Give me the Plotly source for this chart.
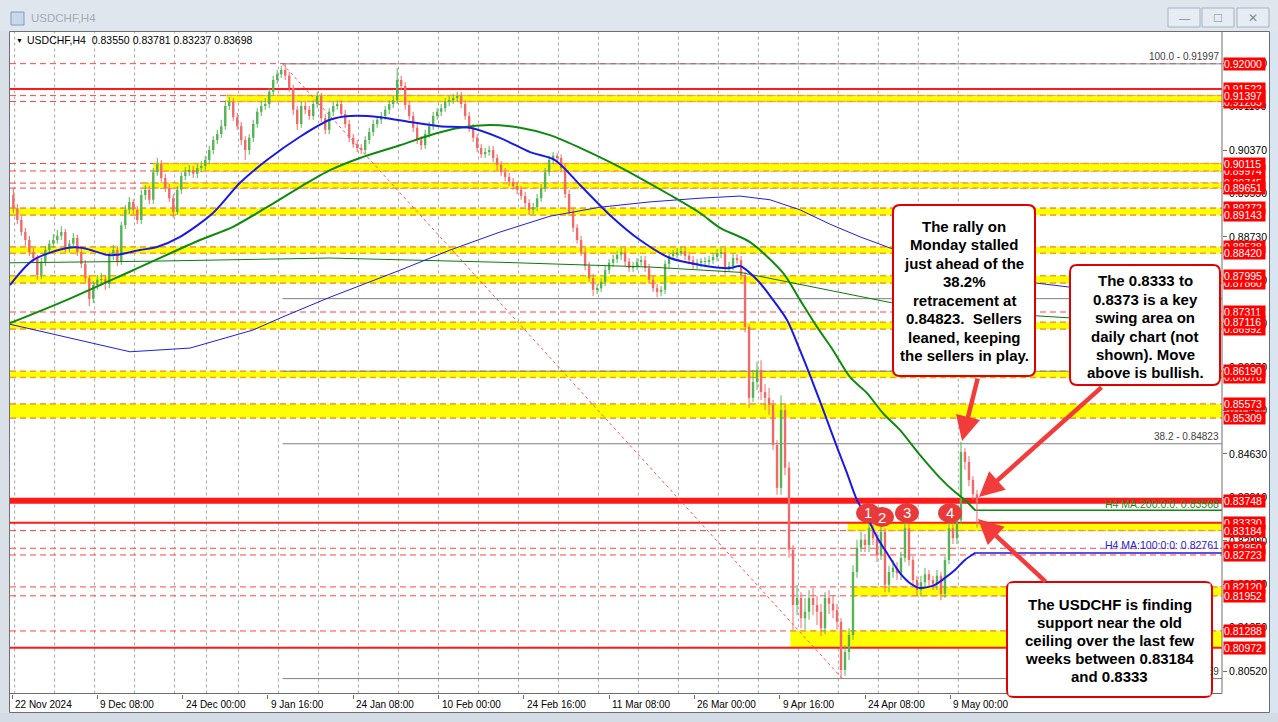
import plotly.graph_objects as go

W, H = 1278, 722
FONT = "Liberation Sans"

# ---------------- data (USDCHF, 12-hour candles) ----------------
first_open = 0.8952
closes = [
 0.8927,0.8905,0.8882,0.8867,0.8844,0.8833,0.8801,0.8826,0.8848,0.8860,
 0.8867,0.8875,0.8882,0.8852,0.8860,0.8871,0.8844,0.8822,0.8795,0.8756,
 0.8782,0.8792,0.8793,0.8784,0.8839,0.8848,0.8826,0.8895,0.8924,0.8939,
 0.8924,0.8905,0.8952,0.8962,0.8943,0.8995,0.9010,0.8984,0.8965,0.8946,
 0.8920,0.8962,0.8988,0.8995,0.8999,0.8992,0.9003,0.9007,0.9018,0.9037,
 0.9056,0.9067,0.9082,0.9120,0.9128,0.9099,0.9082,0.9056,0.9037,0.9060,
 0.9086,0.9109,0.9120,0.9124,0.9147,0.9169,0.9180,0.9188,0.9177,0.9154,
 0.9113,0.9086,0.9120,0.9113,0.9101,0.9124,0.9139,0.9097,0.9075,0.9109,
 0.9120,0.9124,0.9105,0.9086,0.9060,0.9048,0.9041,0.9037,0.9056,0.9071,
 0.9086,0.9094,0.9101,0.9113,0.9124,0.9131,0.9169,0.9158,0.9122,0.9101,
 0.9079,0.9056,0.9046,0.9067,0.9082,0.9101,0.9109,0.9116,0.9128,0.9131,
 0.9135,0.9139,0.9124,0.9101,0.9079,0.9060,0.9041,0.9029,0.9033,0.9037,
 0.9022,0.9009,0.8995,0.8986,0.8977,0.8969,0.8962,0.8950,0.8937,0.8924,
 0.8929,0.8946,0.8965,0.8995,0.9018,0.9026,0.9022,0.9003,0.8954,0.8920,
 0.8890,0.8867,0.8844,0.8818,0.8795,0.8773,0.8776,0.8788,0.8810,0.8824,
 0.8831,0.8839,0.8844,0.8826,0.8814,0.8818,0.8826,0.8829,0.8814,0.8792,
 0.8776,0.8769,0.8773,0.8822,0.8837,0.8839,0.8844,0.8846,0.8837,0.8829,
 0.8820,0.8824,0.8826,0.8827,0.8829,0.8835,0.8842,0.8844,0.8814,0.8818,
 0.8833,0.8829,0.8801,0.8703,0.8569,0.8599,0.8622,0.8580,0.8569,0.8556,
 0.8480,0.8399,0.8546,0.8437,0.8282,0.8178,0.8191,0.8153,0.8165,0.8191,
 0.8178,0.8165,0.8134,0.8191,0.8180,0.8168,0.8146,0.8055,0.8089,0.8121,
 0.8240,0.8286,0.8301,0.8291,0.8323,0.8304,0.8272,0.8316,0.8216,0.8240,
 0.8248,0.8238,0.8267,0.8323,0.8263,0.8225,0.8206,0.8221,0.8236,0.8225,
 0.8218,0.8233,0.8199,0.8263,0.8323,0.8304,0.8338,0.8467,0.8448,0.8414,
 0.8387,0.8370]
highs = [
 0.8965,0.8935,0.8912,0.8890,0.8875,0.8852,0.8839,0.8833,0.8856,0.8867,
 0.8878,0.8886,0.8893,0.8888,0.8867,0.8880,0.8877,0.8852,0.8829,0.8801,
 0.8790,0.8801,0.8805,0.8801,0.8844,0.8858,0.8856,0.8901,0.8933,0.8948,
 0.8944,0.8931,0.8962,0.8971,0.8969,0.9003,0.9022,0.9018,0.8992,0.8973,
 0.8954,0.8969,0.8995,0.9005,0.9009,0.9007,0.9010,0.9016,0.9026,0.9045,
 0.9063,0.9075,0.9094,0.9131,0.9137,0.9135,0.9107,0.9090,0.9063,0.9067,
 0.9094,0.9116,0.9130,0.9135,0.9154,0.9177,0.9188,0.9196,0.9199,0.9184,
 0.9160,0.9120,0.9128,0.9128,0.9120,0.9131,0.9147,0.9145,0.9105,0.9116,
 0.9128,0.9131,0.9131,0.9113,0.9094,0.9067,0.9056,0.9048,0.9063,0.9079,
 0.9094,0.9101,0.9109,0.9120,0.9131,0.9139,0.9192,0.9177,0.9165,0.9130,
 0.9109,0.9086,0.9063,0.9075,0.9090,0.9109,0.9116,0.9124,0.9135,0.9139,
 0.9143,0.9147,0.9147,0.9131,0.9109,0.9086,0.9067,0.9048,0.9041,0.9045,
 0.9045,0.9029,0.9016,0.9003,0.8994,0.8984,0.8977,0.8969,0.8958,0.8944,
 0.8937,0.8954,0.8973,0.9003,0.9026,0.9033,0.9031,0.9029,0.9010,0.8962,
 0.8927,0.8897,0.8875,0.8852,0.8826,0.8803,0.8784,0.8795,0.8818,0.8831,
 0.8839,0.8846,0.8852,0.8852,0.8833,0.8826,0.8833,0.8837,0.8837,0.8822,
 0.8799,0.8784,0.8780,0.8829,0.8844,0.8848,0.8852,0.8854,0.8854,0.8844,
 0.8837,0.8831,0.8833,0.8835,0.8837,0.8842,0.8850,0.8852,0.8852,0.8826,
 0.8841,0.8841,0.8837,0.8807,0.8708,0.8622,0.8637,0.8640,0.8595,0.8588,
 0.8565,0.8489,0.8574,0.8556,0.8448,0.8291,0.8216,0.8202,0.8191,0.8206,
 0.8210,0.8195,0.8180,0.8202,0.8206,0.8195,0.8180,0.8153,0.8102,0.8134,
 0.8253,0.8301,0.8316,0.8312,0.8338,0.8335,0.8316,0.8329,0.8323,0.8252,
 0.8263,0.8259,0.8278,0.8338,0.8331,0.8270,0.8233,0.8233,0.8248,0.8244,
 0.8233,0.8244,0.8240,0.8270,0.8335,0.8338,0.8350,0.8486,0.8474,0.8459,
 0.8421,0.8395]
lows = [
 0.8918,0.8897,0.8875,0.8856,0.8837,0.8824,0.8792,0.8793,0.8818,0.8841,
 0.8852,0.8860,0.8867,0.8844,0.8844,0.8852,0.8837,0.8814,0.8788,0.8742,
 0.8748,0.8773,0.8782,0.8773,0.8776,0.8829,0.8818,0.8820,0.8888,0.8916,
 0.8916,0.8897,0.8897,0.8943,0.8935,0.8935,0.8988,0.8977,0.8958,0.8939,
 0.8909,0.8914,0.8954,0.8980,0.8988,0.8984,0.8984,0.8995,0.8999,0.9010,
 0.9029,0.9048,0.9060,0.9075,0.9113,0.9092,0.9075,0.9046,0.9018,0.9028,
 0.9052,0.9079,0.9101,0.9113,0.9116,0.9139,0.9162,0.9173,0.9169,0.9147,
 0.9103,0.9075,0.9079,0.9105,0.9094,0.9094,0.9116,0.9090,0.9067,0.9067,
 0.9101,0.9113,0.9097,0.9079,0.9052,0.9041,0.9033,0.9029,0.9029,0.9048,
 0.9063,0.9079,0.9086,0.9094,0.9105,0.9116,0.9124,0.9150,0.9113,0.9094,
 0.9071,0.9048,0.9037,0.9039,0.9060,0.9075,0.9094,0.9101,0.9109,0.9120,
 0.9124,0.9128,0.9116,0.9094,0.9071,0.9052,0.9033,0.9022,0.9022,0.9026,
 0.9014,0.8999,0.8988,0.8978,0.8969,0.8962,0.8954,0.8943,0.8929,0.8914,
 0.8916,0.8922,0.8939,0.8958,0.8988,0.9010,0.9014,0.8995,0.8946,0.8912,
 0.8882,0.8860,0.8837,0.8810,0.8788,0.8761,0.8765,0.8769,0.8780,0.8803,
 0.8816,0.8824,0.8829,0.8818,0.8807,0.8807,0.8810,0.8818,0.8807,0.8784,
 0.8769,0.8759,0.8761,0.8765,0.8814,0.8829,0.8833,0.8837,0.8829,0.8822,
 0.8812,0.8812,0.8816,0.8816,0.8820,0.8822,0.8827,0.8833,0.8803,0.8807,
 0.8810,0.8822,0.8792,0.8693,0.8550,0.8561,0.8584,0.8565,0.8546,0.8537,
 0.8471,0.8386,0.8386,0.8423,0.8267,0.8131,0.8159,0.8134,0.8131,0.8150,
 0.8159,0.8140,0.8119,0.8123,0.8161,0.8153,0.8131,0.8040,0.8044,0.8074,
 0.8112,0.8229,0.8278,0.8278,0.8278,0.8291,0.8259,0.8263,0.8202,0.8202,
 0.8229,0.8225,0.8225,0.8259,0.8252,0.8214,0.8195,0.8195,0.8210,0.8214,
 0.8206,0.8206,0.8187,0.8191,0.8255,0.8293,0.8293,0.8331,0.8433,0.8402,
 0.8376,0.8324]

# moving averages (x = H4 bar index, 0 = 22 Nov 2024 16:00)
ma100_idx = [-1.5,15.8,41.3,53.3,71.3,78.8,96.0,108.8,126.1,150.8,171.1,191.3,216.1,238.6,253.6,276.1,
             298.6,321.1,343.6,366.1,388.7,407.4,426.2,448.7,471.2,493.7,516.2,538.7,546.2,559.0,571.0,
             581.5,591.2,601.0,611.5,619.0,626.5,634.0,641.5,649.0,656.5,666.3,673.8,681.3,692.5,700.0,
             707.5,715.0,722.5]
ma100_val = [0.8782,0.8829,0.8852,0.8852,0.8839,0.8839,0.8848,0.8854,0.8873,0.8918,0.8975,0.9018,0.9062,
             0.9094,0.9101,0.9099,0.9090,0.9082,0.9079,0.9060,0.9033,0.9018,0.8971,0.8914,0.8867,0.8833,
             0.8820,0.8814,0.8818,0.8792,0.8754,0.8716,0.8659,0.8597,0.8527,0.8476,0.8427,0.8376,0.8344,
             0.8306,0.8276,0.8238,0.8219,0.8210,0.8216,0.8229,0.8244,0.8263,0.8276]
ma200_idx = [-1.5,41.3,90.8,141.1,165.8,191.3,216.1,238.6,261.1,291.1,313.6,336.1,358.6,381.2,403.7,
             426.2,448.7,471.2,493.7,516.2,531.2,553.7,578.5,591.2,604.0,616.0,628.8,641.5,653.5,666.3,
             681.3,696.3,707.5,715.0,722.5]
ma200_val = [0.8710,0.8754,0.8810,0.8867,0.8892,0.8929,0.8967,0.8999,0.9022,0.9046,0.9065,0.9079,0.9084,
             0.9079,0.9065,0.9041,0.9014,0.8984,0.8952,0.8918,0.8890,0.8863,0.8805,0.8754,0.8703,0.8659,
             0.8608,0.8578,0.8540,0.8508,0.8461,0.8418,0.8391,0.8376,0.8357]
d100_idx = [-1.5,36.0,88.5,133.6,180.8,203.3,238.6,291.1,328.6,366.1,403.7,441.2,478.7,516.2,546.2,
            568.7,591.2,613.7,636.3,658.8,767.6,793.8]
d100_val = [0.8708,0.8686,0.8656,0.8663,0.8697,0.8722,0.8759,0.8810,0.8848,0.8882,0.8912,0.8929,0.8939,
            0.8946,0.8950,0.8943,0.8924,0.8897,0.8873,0.8852,0.8786,0.8778]
d200_idx = [-1.5,103.5,238.6,366.1,478.7,546.2,583.7,661.0,767.6,793.8]
d200_val = [0.8824,0.8827,0.8833,0.8825,0.8816,0.8806,0.8787,0.8748,0.8724,0.8720]
ma200_last, ma100_last, last_bar = 0.83568, 0.82761, 722

# horizontal levels
dashed_levels = [0.92000,0.91397,0.91285,0.90115,0.89974,0.89745,0.89651,0.89272,0.89143,0.88538,0.88420,
                 0.87995,0.87860,0.87311,0.87116,0.86992,0.86190,0.86076,0.85573,0.85309,0.83184,0.82850,
                 0.82723,0.82120,0.81952,0.81288]
solid_levels = [0.91522, 0.83748, 0.83330, 0.80972]
band_hi = [0.91397,0.90115,0.89745,0.89272,0.88538,0.87995,0.87116,0.86190,0.85573,0.83330,0.82120,0.81288]
band_lo = [0.91285,0.89974,0.89651,0.89143,0.88420,0.87860,0.86992,0.86076,0.85309,0.83184,0.81952,0.80972]
band_from = [161,106,98,-2,-2,-2,-2,-2,-2,627,630,584]
hidden_labels = [0.91522,0.91285,0.89974,0.89745,0.89272,0.88538,0.87860,0.86992,0.86076,0.82850]
shown_labels = [0.92000,0.91397,0.90115,0.89651,0.89143,0.88420,0.87995,0.87311,0.87116,0.86190,0.85573,
                0.85309,0.83748,0.83330,0.83184,0.82723,0.82120,0.81952,0.81288,0.80972]

# Fibonacci retracement
fib_high, fib_low = 0.91997, 0.80389
fib_from, fib_to = 203, 623
fib_ratios = [0.0, 38.2, 50.0, 61.8, 100.0]
fib_labelled = [100.0, 38.2, 0.0]

# axes
x_tick_idx = [0, 64, 128, 192, 256, 320, 384, 448, 512, 576, 640, 704]
x_tick_text = ["22 Nov 2024", "9 Dec 08:00", "24 Dec 00:00", "9 Jan 16:00", "24 Jan 08:00",
               "10 Feb 00:00", "24 Feb 16:00", "11 Mar 08:00", "26 Mar 00:00", "9 Apr 16:00",
               "24 Apr 08:00", "9 May 00:00"]
week_idx = [2,32,62,92,122,146,170,200,230,260,290,320,350,380,410,440,470,500,530,560,590,620,650,680,710]
y_tick_vals = [0.9201,0.9119,0.9037,0.8955,0.8873,0.8791,0.8709,0.8627,0.8545,0.8463,0.8381,0.8299,
               0.8217,0.8135,0.8052]
header_ohlc = [0.83550, 0.83781, 0.83237, 0.83698]

# swing markers (bar index, price)
marker_idx = [642.3, 652.7, 671.5, 703.8]
marker_px = [0.83516, 0.83440, 0.83516, 0.83516]
marker_txt = ["1", "2", "3", "4"]

box1_lines = ["The rally on", "Monday stalled", "just ahead of the", "38.2%", "retracement at",
              "0.84823.  Sellers", "leaned, keeping", "the sellers in play."]
box2_lines = ["The 0.8333 to", "0.8373 is a key", "swing area on", "daily chart (not",
              "shown). Move", "above is bullish."]
box3_lines = ["The USDCHF is finding", "support near the old", "ceiling over the last few",
              "weeks between 0.83184", "and 0.8333"]

# ---------------- geometry ----------------
BAR_PX = 85.3 / 64.0
X0 = (10 - 12) / BAR_PX
X1 = (1222 - 12) / BAR_PX
PPU = 5296.0
def price_at(y):
    return 0.932023 - y / PPU
Y_LO, Y_HI = price_at(693.5), price_at(32)

def px(x):
    return x / W
def py(y):
    return 1 - y / H

# ---------------- candles ----------------
opens = [first_open] + closes[:-1]
cx = [3 * i + 1 for i in range(len(closes))]
GREEN, RED = "#56b456", "#f06a6a"

fig = go.Figure()
for is_up, col in ((True, GREEN), (False, RED)):
    wx, wy, bx, bh, bb = [], [], [], [], []
    for x, o, c, h, l in zip(cx, opens, closes, highs, lows):
        if (c >= o) != is_up:
            continue
        h = max(h, o, c); l = min(l, o, c)
        wx += [x, x, None]; wy += [l, h, None]
        bx.append(x); bb.append(min(o, c)); bh.append(max(abs(c - o), 0.00008))
    fig.add_trace(go.Scatter(x=wx, y=wy, mode="lines", line=dict(color=col, width=1), hoverinfo="skip"))
    fig.add_trace(go.Bar(x=bx, y=bh, base=bb, width=1.8, marker=dict(color=col, line=dict(width=0)),
                         hoverinfo="skip"))

# moving averages
fig.add_trace(go.Scatter(x=d200_idx, y=d200_val, mode="lines", line=dict(color="#0a7a0a", width=1)))
fig.add_trace(go.Scatter(x=d100_idx, y=d100_val, mode="lines", line=dict(color="#1f1fe0", width=1)))
fig.add_trace(go.Scatter(x=ma200_idx, y=ma200_val, mode="lines",
                         line=dict(color="#0f8a0f", width=2, shape="spline", smoothing=0.8)))
fig.add_trace(go.Scatter(x=ma100_idx, y=ma100_val, mode="lines",
                         line=dict(color="#1a1ae6", width=2, shape="spline", smoothing=0.8)))

# ---------------- shapes ----------------
shapes = []
shapes.append(dict(type="rect", xref="paper", yref="paper", x0=px(9), x1=px(1270), y0=py(713), y1=py(31),
                   fillcolor="white", line=dict(width=0), layer="below"))
for wi in week_idx:
    shapes.append(dict(type="line", xref="x", yref="y", x0=wi, x1=wi, y0=Y_LO, y1=Y_HI,
                       line=dict(color="#a8a8a8", width=1, dash="dot"), layer="below"))
for p in dashed_levels:
    shapes.append(dict(type="line", xref="x", yref="y", x0=X0, x1=X1, y0=p, y1=p,
                       line=dict(color="#ff4444", width=1, dash="6px,4px"), layer="below"))
for lo, hi, st in zip(band_lo, band_hi, band_from):
    shapes.append(dict(type="rect", xref="x", yref="y", x0=max(st, X0), x1=X1, y0=lo, y1=hi,
                       fillcolor="#ffff00", line=dict(width=0), layer="below"))
for lo, hi, st in zip(band_lo, band_hi, band_from):
    for p in (lo, hi):
        if p in dashed_levels:
            shapes.append(dict(type="line", xref="x", yref="y", x0=max(st, X0), x1=X1, y0=p, y1=p,
                               line=dict(color="#f2a22c", width=1.5, dash="6px,4px"), layer="below"))
for p in solid_levels:
    shapes.append(dict(type="line", xref="x", yref="y", x0=X0, x1=X1, y0=p, y1=p,
                       line=dict(color="#ff1a1a", width=6 if p == 0.83748 else 2), layer="below"))
for r in fib_ratios:
    fp = fib_low + r / 100.0 * (fib_high - fib_low)
    shapes.append(dict(type="line", xref="x", yref="y", x0=fib_from, x1=X1, y0=fp, y1=fp,
                       line=dict(color="#808080", width=1), layer="below"))
shapes.append(dict(type="line", xref="x", yref="y", x0=fib_from, x1=fib_to, y0=fib_high, y1=fib_low,
                   line=dict(color="#ff5050", width=1, dash="dot"), layer="below"))
shapes.append(dict(type="line", xref="x", yref="y", x0=last_bar, x1=X1, y0=ma200_last, y1=ma200_last,
                   line=dict(color="#0f8a0f", width=1.5), layer="below"))
shapes.append(dict(type="line", xref="x", yref="y", x0=last_bar, x1=X1, y0=ma100_last, y1=ma100_last,
                   line=dict(color="#1a1ae6", width=1.5), layer="below"))

# window chrome
shapes.append(dict(type="rect", xref="paper", yref="paper", x0=0, x1=1, y0=py(31), y1=1,
                   fillcolor="#dfe6ee", line=dict(width=0), layer="above"))
shapes.append(dict(type="rect", xref="paper", yref="paper", x0=0, x1=1, y0=py(722), y1=py(713),
                   fillcolor="#d3dbe4", line=dict(width=0), layer="above"))
shapes.append(dict(type="rect", xref="paper", yref="paper", x0=px(1270), x1=1, y0=py(713), y1=py(31),
                   fillcolor="#dae5f2", line=dict(width=0), layer="above"))
shapes.append(dict(type="rect", xref="paper", yref="paper", x0=px(9.5), x1=px(1269.5), y0=py(712.5),
                   y1=py(31.5), line=dict(color="#6e6e6e", width=1), layer="above"))
shapes.append(dict(type="line", xref="paper", yref="paper", x0=px(1222), x1=px(1222), y0=py(693.5),
                   y1=py(32), line=dict(color="#6e6e6e", width=1), layer="above"))
shapes.append(dict(type="line", xref="paper", yref="paper", x0=px(10), x1=px(1222), y0=py(693.5),
                   y1=py(693.5), line=dict(color="#6e6e6e", width=1), layer="above"))
for bx0 in (1168, 1202, 1237):
    shapes.append(dict(type="rect", xref="paper", yref="paper", x0=px(bx0), x1=px(bx0 + 32),
                       y0=py(27), y1=py(8), fillcolor="#e6ecf3", line=dict(color="#a8b3c1", width=1),
                       layer="above"))
shapes.append(dict(type="rect", xref="paper", yref="paper", x0=px(11), x1=px(24), y0=py(25), y1=py(12),
                   fillcolor="#c8d8ec", line=dict(color="#7f9dc4", width=1), layer="above"))

def rounded(x0, y0, x1, y1, r):
    pts = [("M", x0 + r, y0), ("L", x1 - r, y0), ("Q", x1, y0, x1, y0 + r), ("L", x1, y1 - r),
           ("Q", x1, y1, x1 - r, y1), ("L", x0 + r, y1), ("Q", x0, y1, x0, y1 - r),
           ("L", x0, y0 + r), ("Q", x0, y0, x0 + r, y0)]
    out = []
    for p in pts:
        if p[0] == "Q":
            out.append("Q%.5f,%.5f %.5f,%.5f" % (px(p[1]), py(p[2]), px(p[3]), py(p[4])))
        else:
            out.append("%s%.5f,%.5f" % (p[0], px(p[1]), py(p[2])))
    return " ".join(out) + " Z"

BOXES = [(893, 205, 1035, 376), (1070, 265, 1220, 385), (1007, 582, 1212, 697)]
for b in BOXES:
    shapes.append(dict(type="path", xref="paper", yref="paper", path=rounded(*b, 7),
                       fillcolor="white", line=dict(color="#e00000", width=2), layer="above"))
for mi, mp in zip(marker_idx, marker_px):
    shapes.append(dict(type="circle", xref="x", yref="y", xsizemode="pixel", ysizemode="pixel",
                       xanchor=mi, yanchor=mp, x0=-12, x1=12, y0=-10, y1=10,
                       fillcolor="#e83a3a", line=dict(width=0), layer="above"))

# ---------------- annotations ----------------
ann = []
def text(x, y, s, size=10, color="black", xa="left", bold=False, **kw):
    d = dict(xref="paper", yref="paper", x=px(x), y=py(y), text=("<b>%s</b>" % s) if bold else s,
             showarrow=False, xanchor=xa, yanchor="middle",
             font=dict(family=FONT, size=size, color=color))
    d.update(kw)
    ann.append(d)

text(29, 18, "USDCHF,H4", 11.5, "#a3abb5")
text(1184, 18, "\u2014", 11, "#7d8996", "center")
text(1218, 18, "\u25a1", 13, "#7d8996", "center")
text(1253, 18, "\u2715", 12, "#7d8996", "center")
text(14, 40, "\u25bc", 7, "black")
text(25, 40, "USDCHF,H4\u00a0\u00a0" + " ".join("%.5f" % v for v in header_ohlc), 10.5, "black")

for i, t in zip(x_tick_idx, x_tick_text):
    ann.append(dict(xref="x", yref="paper", x=i, y=py(704), text=t, showarrow=False, xanchor="left",
                    yanchor="middle", xshift=1, font=dict(family=FONT, size=10, color="black")))

for r in fib_labelled:
    fp = fib_low + r / 100.0 * (fib_high - fib_low)
    ann.append(dict(xref="paper", yref="y", x=px(1221), y=fp, text="%.1f - %.5f" % (r, fp),
                    showarrow=False, xanchor="right", yanchor="bottom", yshift=0,
                    font=dict(family=FONT, size=10, color="#404040")))
ann.append(dict(xref="paper", yref="y", x=px(1221), y=ma200_last, text="H4 MA:200:0:0: %.5f" % ma200_last,
                showarrow=False, xanchor="right", yanchor="bottom", yshift=-2,
                font=dict(family=FONT, size=10.5, color="#1f8a1f")))
ann.append(dict(xref="paper", yref="y", x=px(1221), y=ma100_last, text="H4 MA:100:0:0: %.5f" % ma100_last,
                showarrow=False, xanchor="right", yanchor="bottom",
                font=dict(family=FONT, size=10.5, color="#2323d6")))

# white inner panel for box 3 (covers the 0.0 fib label)
ann.append(dict(xref="paper", yref="paper", x=px(1109.5), y=py(639.5), text=" ", showarrow=False,
                width=201, height=111, bgcolor="white", borderpad=0, xanchor="center", yanchor="middle"))

for lines, cxp, y0 in ((box1_lines, 964, 226), (box2_lines, 1145, 281), (box3_lines, 1109.5, 604)):
    step = 18.55 if lines is box1_lines else (18.4 if lines is box2_lines else 18.0)
    for k, s in enumerate(lines):
        text(cxp, y0 + k * step, s.replace("  ", "\u00a0 "), 15, "black", "center", bold=True)

for p in hidden_labels + shown_labels:
    ann.append(dict(xref="paper", yref="y", x=px(1223), y=p, text="%.5f" % p, showarrow=False,
                    xanchor="left", yanchor="middle", align="left", width=41, height=12,
                    bgcolor="#ff0000", borderpad=0,
                    font=dict(family=FONT, size=10.5, color="white")))

# arrows (head on the chart, tail on the boxes)
for hx, hy, ax, ay in ((712.8, 0.84875, 16, -64), (725.5, 0.83818, 124, -111), (724.8, 0.83402, 69, 64)):
    ann.append(dict(xref="x", yref="y", x=hx, y=hy, ax=ax, ay=ay, text="", showarrow=True,
                    arrowhead=2, arrowsize=1.1, arrowwidth=4.5, arrowcolor="#f23c3c", standoff=0))

for mi, mp, t in zip(marker_idx, marker_px, marker_txt):
    ann.append(dict(xref="x", yref="y", x=mi, y=mp, text=t, showarrow=False, xanchor="center",
                    yanchor="middle", font=dict(family=FONT, size=15, color="white")))

fig.update_layout(
    width=W, height=H, margin=dict(l=0, r=0, t=0, b=0),
    paper_bgcolor="#d9e0e8", plot_bgcolor="white",
    showlegend=False, hovermode=False, barmode="overlay", dragmode=False,
    shapes=shapes, annotations=ann,
    xaxis=dict(domain=[px(10), px(1222)], range=[X0, X1], showgrid=False, zeroline=False,
               showline=False, tickvals=x_tick_idx, ticks="outside", ticklen=4, tickcolor="#6e6e6e",
               showticklabels=False, fixedrange=True),
    yaxis=dict(domain=[py(693.5), py(32)], range=[Y_LO, Y_HI], side="right", showgrid=False,
               zeroline=False, showline=False, tickvals=y_tick_vals,
               ticktext=["%.5f" % v for v in y_tick_vals], ticks="outside", ticklen=4,
               tickcolor="#6e6e6e", tickfont=dict(family=FONT, size=10.5, color="black"),
               fixedrange=True),
)

fig.write_html("out.html", config={"displayModeBar": False},
               post_script="document.body.style.margin='0';document.body.style.overflow='hidden';")
